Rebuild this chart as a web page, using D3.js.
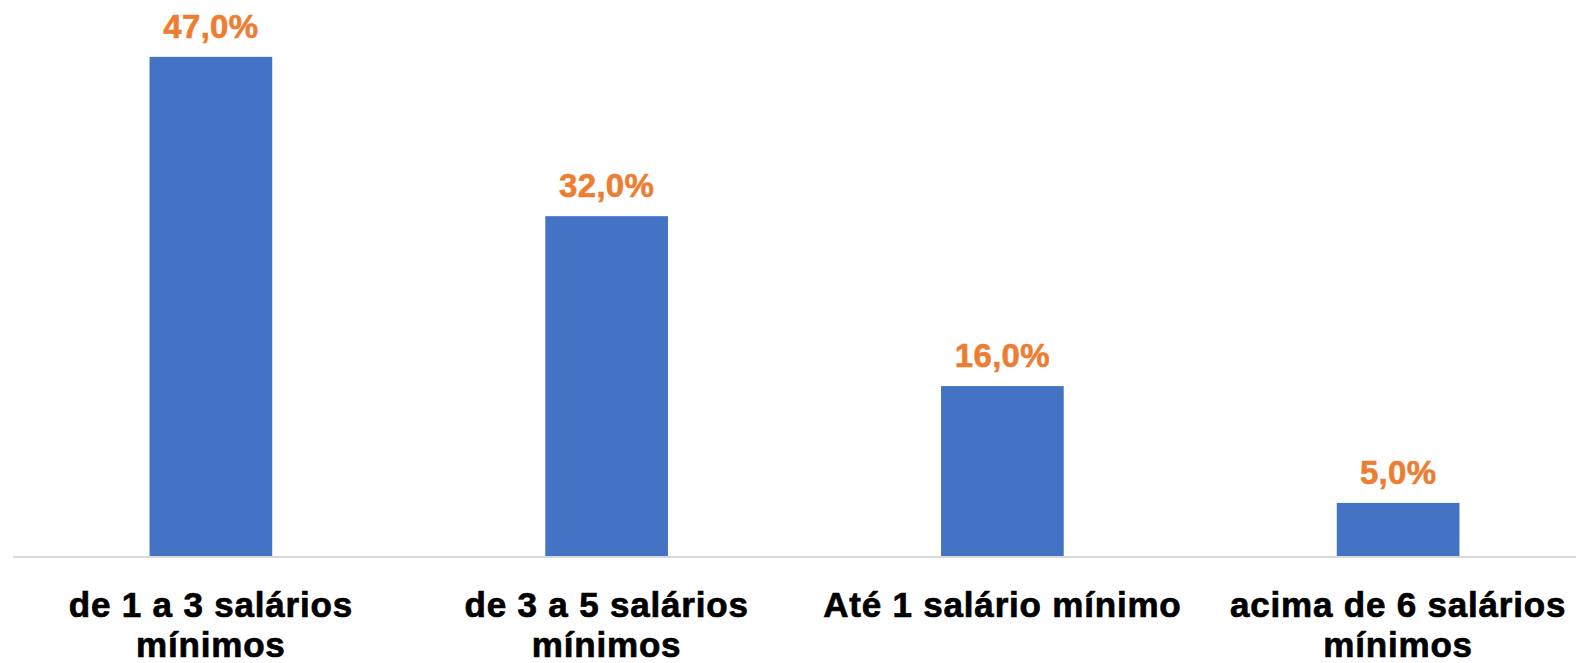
<!DOCTYPE html>
<html>
<head>
<meta charset="utf-8">
<script src="https://cdn.jsdelivr.net/npm/d3@7"></script>
<style>
  html, body { margin: 0; padding: 0; background: #fff; }
  svg { display: block; font-family: "Liberation Sans", Arial, sans-serif; }
</style>
</head>
<body>
<div id="chart"></div>
<script>
const categories = [
  "de 1 a 3 salários mínimos",
  "de 3 a 5 salários mínimos",
  "Até 1 salário mínimo",
  "acima de 6 salários mínimos"
];
const values = [47.0, 32.0, 16.0, 5.0];
const valueLabels = ["47,0%", "32,0%", "16,0%", "5,0%"];

const rows = categories.map((c, i) => ({ label: c, value: values[i], text: valueLabels[i] }));

const width = 1576;
const height = 663;
const baseY = 556;

const x = d3
  .scaleBand()
  .domain(categories)
  .range([13, 1596])
  .paddingInner(0.69)
  .paddingOuter(0.345);

const y = d3.scaleLinear().domain([0, 50]).range([baseY, baseY - 531]);

const svg = d3
  .select("#chart")
  .append("svg")
  .attr("width", width)
  .attr("height", height)
  .attr("viewBox", `0 0 ${width} ${height}`);

svg
  .selectAll("rect.bar")
  .data(rows)
  .join("rect")
  .attr("class", "bar")
  .attr("x", (d) => x(d.label))
  .attr("y", (d) => y(d.value))
  .attr("width", x.bandwidth())
  .attr("height", (d) => y(0) - y(d.value))
  .attr("fill", "#4472C4");

// baseline
svg
  .append("line")
  .attr("x1", 13)
  .attr("x2", width)
  .attr("y1", baseY + 1)
  .attr("y2", baseY + 1)
  .attr("stroke", "#d9d9d9")
  .attr("stroke-width", 2);

svg
  .selectAll("text.val")
  .data(rows)
  .join("text")
  .attr("class", "val")
  .attr("x", (d) => x(d.label) + x.bandwidth() / 2)
  .attr("y", (d) => y(d.value) - 19)
  .attr("text-anchor", "middle")
  .attr("fill", "#ED7D31")
  .attr("stroke", "#ED7D31")
  .attr("stroke-width", 0.6)
  .attr("font-size", 33)
  .attr("font-weight", 700)
  .attr("letter-spacing", 0.3)
  .text((d) => d.text);

// category labels, wrapped to the band step
const cat = svg
  .selectAll("text.cat")
  .data(rows)
  .join("text")
  .attr("class", "cat")
  .attr("text-anchor", "middle")
  .attr("fill", "#000")
  .attr("stroke", "#000")
  .attr("stroke-width", 0.7)
  .attr("font-size", 35)
  .attr("font-weight", 700)
  .attr("letter-spacing", 0.8);

cat.each(function (d) {
  const el = d3.select(this);
  const cx = x(d.label) + x.bandwidth() / 2;
  const maxW = x.step();
  const words = d.label.split(" ");
  const lines = [];
  let line = [];
  const probe = el.append("tspan");
  words.forEach((w) => {
    const test = line.concat(w).join(" ");
    probe.text(test);
    if (probe.node().getComputedTextLength() > maxW && line.length) {
      lines.push(line.join(" "));
      line = [w];
    } else {
      line.push(w);
    }
  });
  lines.push(line.join(" "));
  probe.remove();
  lines.forEach((l, i) => {
    el.append("tspan")
      .attr("x", cx)
      .attr("y", 617 + i * 40)
      .text(l);
  });
});
</script>
</body>
</html>
